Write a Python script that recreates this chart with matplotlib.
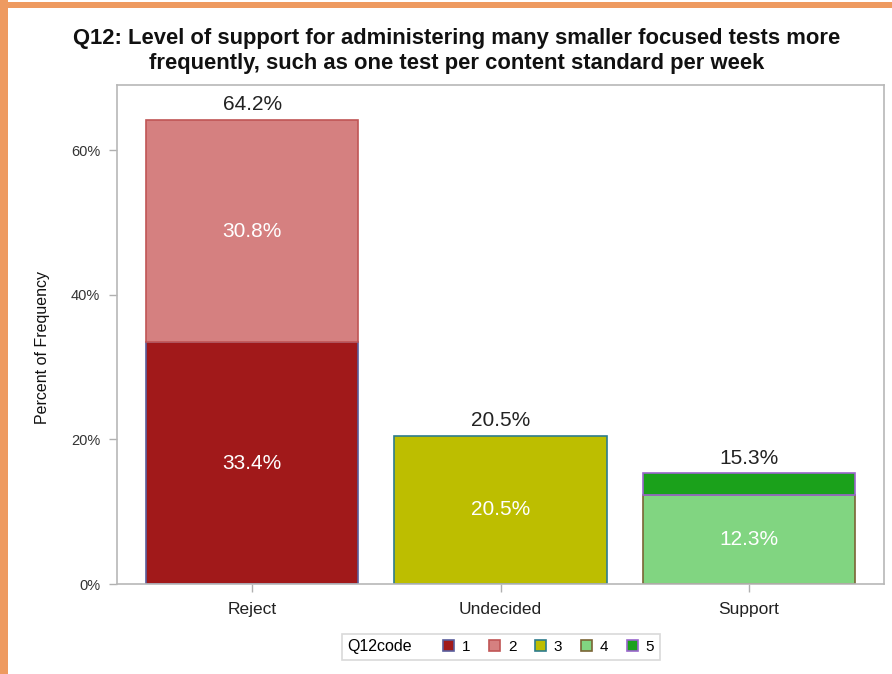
import matplotlib.pyplot as plt
import matplotlib.patches as mpatches
from matplotlib.offsetbox import HPacker
import numpy as np

plt.rcParams['font.family'] = ['Liberation Sans', 'DejaVu Sans']

# Datos
categories = ['Reject', 'Undecided', 'Support']
codes = ['1', '2', '3', '4', '5']
# porcentaje por codigo en cada categoria
code_values = {
    '1': [33.4, 0, 0],
    '2': [30.8, 0, 0],
    '3': [0, 20.5, 0],
    '4': [0, 0, 12.3],
    '5': [0, 0, 3.0],
}
totals = [64.2, 20.5, 15.3]
inner_labels = {'1': ['33.4%', '', ''], '2': ['30.8%', '', ''], '3': ['', '20.5%', ''],
                '4': ['', '', '12.3%'], '5': ['', '', '']}

fill_colors = {'1': '#A1191A', '2': '#D58080', '3': '#BDBE00', '4': '#81D581', '5': '#1BA11B'}
edge_colors = {'1': '#5A5E9C', '2': '#C05555', '3': '#2E7C8C', '4': '#7A6535', '5': '#9A66CC'}

fig = plt.figure(figsize=(8.92, 6.74), dpi=100)
ax = fig.add_axes([117 / 892, 90 / 674, 767 / 892, 499 / 674])

x = np.arange(len(categories))
bottom = np.zeros(len(categories))
for c in codes:
    vals = np.array(code_values[c])
    mask = vals > 0
    ax.bar(x[mask], vals[mask], bottom=bottom[mask], width=0.855,
           color=fill_colors[c], edgecolor=edge_colors[c], linewidth=1.2)
    for i in range(len(categories)):
        if inner_labels[c][i]:
            ax.text(x[i], bottom[i] + vals[i] / 2, inner_labels[c][i], ha='center', va='center',
                    color='white', fontsize=15)
    bottom += vals

for i, t in enumerate(totals):
    ax.text(x[i], t + 2.1, f'{t}%', ha='center', va='center', color='#222222', fontsize=15)

ax.set_xlim(-0.545, 2.545)
ax.set_ylim(0, 69)
ax.set_xticks(x)
ax.set_xticklabels(categories, fontsize=12.5, color='#222222')
ax.set_yticks([0, 20, 40, 60])
ax.set_yticklabels(['0%', '20%', '40%', '60%'], fontsize=10.5, color='#333333')
ax.tick_params(axis='both', direction='out', length=6, color='#b0b0b0', width=1)
ax.tick_params(axis='x', pad=7)
ax.tick_params(axis='y', pad=6)
ax.set_ylabel('Percent of Frequency', fontsize=11.5, color='#111111')
ax.yaxis.set_label_coords(-0.088, 0.473)
for s in ax.spines.values():
    s.set_color('#b8b8b8')
    s.set_linewidth(1.2)

fig.text(457 / 892, 1 - 51 / 674,
         'Q12: Level of support for administering many smaller focused tests more\nfrequently, such as one test per content standard per week',
         ha='center', va='center', fontsize=15.8, fontweight='bold', linespacing=1.25, color='#111111')

# Leyenda
handles = [mpatches.Patch(facecolor=fill_colors[c], edgecolor=edge_colors[c], linewidth=1.2) for c in codes]
leg = fig.legend(handles, codes, title='Q12code', ncol=5, loc='center',
                 bbox_to_anchor=(501 / 892, 1 - 647 / 674), fontsize=11, title_fontsize=11.5,
                 handlelength=0.75, handleheight=0.75, handletextpad=0.5, columnspacing=1.2,
                 frameon=True, fancybox=False, edgecolor='#d0d0d0', borderpad=0.35)
leg._legend_box.__class__ = HPacker
leg._legend_box.sep = 22
leg.get_frame().set_linewidth(1.2)

# borde naranja
fig.patches.append(mpatches.Rectangle((0, 0), 8 / 892, 1, transform=fig.transFigure,
                                      facecolor='#EE9A60', edgecolor='none'))
fig.patches.append(mpatches.Rectangle((0, 1 - 8 / 674), 1, 6 / 674, transform=fig.transFigure,
                                      facecolor='#EE9A60', edgecolor='none'))

fig.savefig('out.png', dpi=100)
